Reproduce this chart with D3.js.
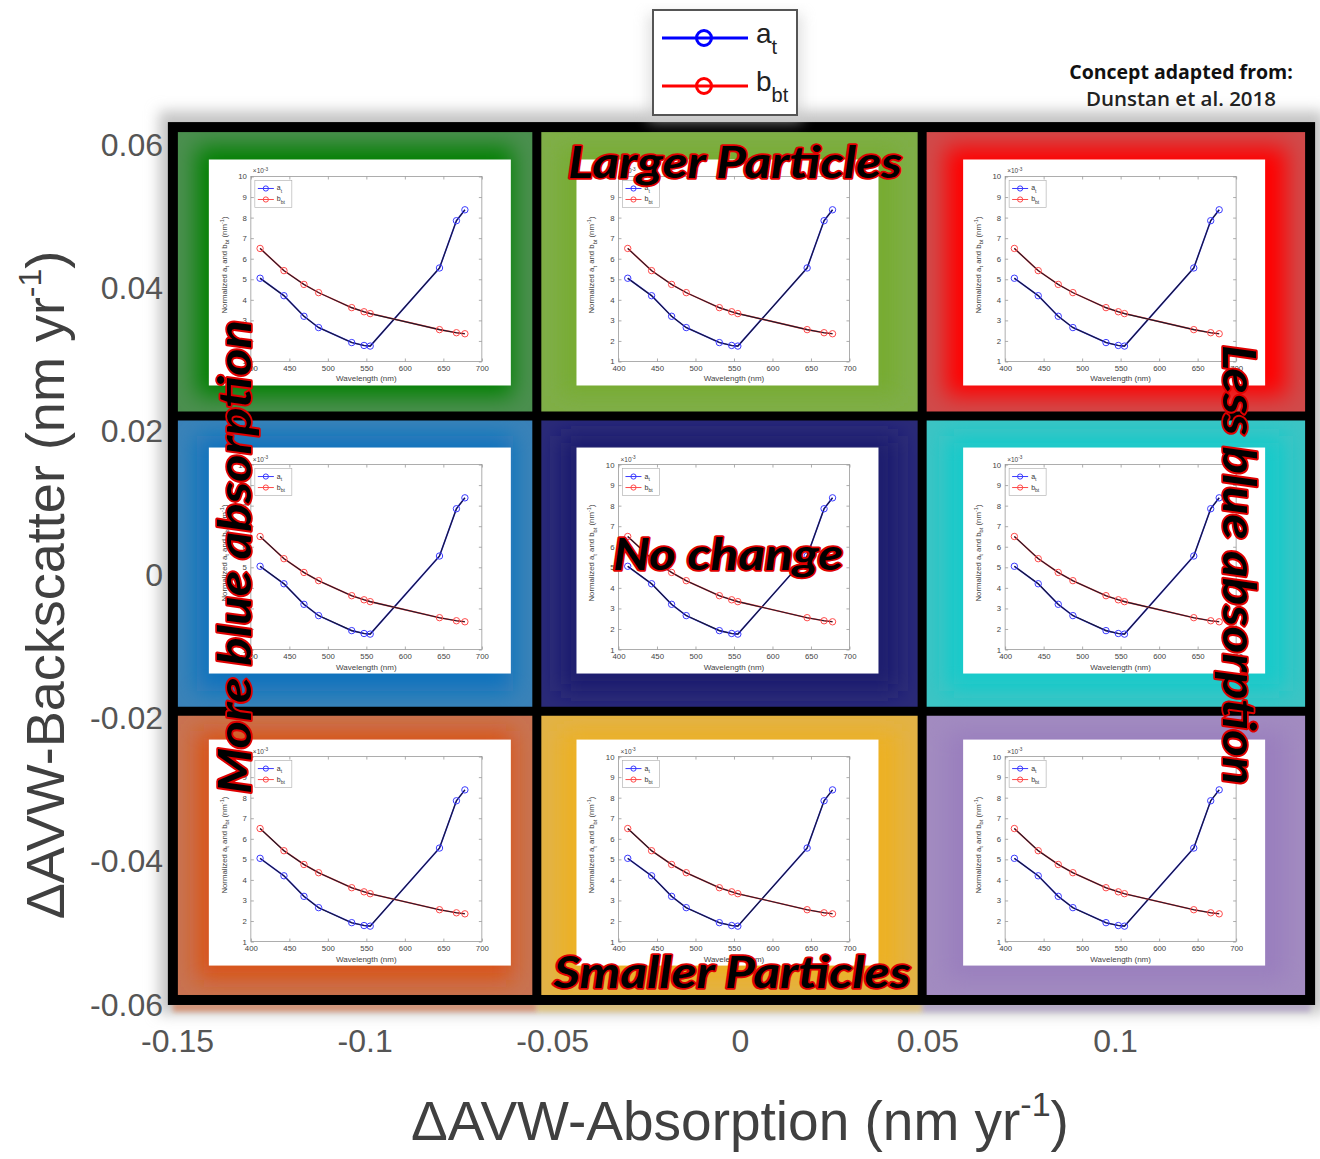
<!DOCTYPE html>
<html><head><meta charset="utf-8">
<script src="https://cdn.jsdelivr.net/npm/d3@7"></script>
<style>body{margin:0;background:#fff}svg{display:block}</style>
</head><body><svg id="c" width="1320" height="1159"></svg>
<script>
// ---- data ----
const wavelengths = [412, 443, 469, 488, 531, 547, 555, 645, 667, 678];
const aT  = [5.05, 4.2, 3.2, 2.65, 1.92, 1.78, 1.75, 5.55, 7.85, 8.38];
const bBT = [6.5, 5.42, 4.75, 4.35, 3.62, 3.42, 3.33, 2.55, 2.4, 2.35];
const insetXTicks = [400, 450, 500, 550, 600, 650, 700];
const insetYTicks = [1, 2, 3, 4, 5, 6, 7, 8, 9, 10];
const xTicks = [-0.15, -0.1, -0.05, 0, 0.05, 0.1];
const yTicks = [0.06, 0.04, 0.02, 0, -0.02, -0.04, -0.06];
const colEdges = [-0.1511, -0.0541, 0.0486, 0.152];
const rowEdges = [0.0625, 0.0222, -0.019, -0.0593];
const cellColors = [
  ["#008000", "#77ac30", "#ff0000"],
  ["#0a72bd", "#1c1c6e", "#12caca"],
  ["#d95319", "#edb120", "#9a7fbe"]
];
const edgeColors = [
  ["#4b8f4f", "#7fae48", "#d04a4a"],
  ["#3a82b8", "#2a2a78", "#3cc4c4"],
  ["#c87352", "#e2b246", "#a28bc0"]
];
const quadLabels = ["Larger Particles", "No change", "Smaller Particles", "More blue absorption", "Less blue absorption"];

// ---- setup ----
const svg = d3.select("#c");
const defs = svg.append("defs");
defs.append("filter").attr("id", "blur").attr("x", "-20%").attr("y", "-20%").attr("width", "140%").attr("height", "140%")
  .append("feGaussianBlur").attr("stdDeviation", 11);
defs.append("filter").attr("id", "shadow").attr("x", "-10%").attr("y", "-10%").attr("width", "120%").attr("height", "120%")
  .append("feGaussianBlur").attr("stdDeviation", 7);
defs.append("filter").attr("id", "soft").attr("x", "-10%").attr("y", "-50%").attr("width", "120%").attr("height", "200%")
  .append("feGaussianBlur").attr("stdDeviation", 2.5);

const x = d3.scaleLinear().domain([-0.15, 0.1]).range([177, 1115]);
const y = d3.scaleLinear().domain([0.06, -0.06]).range([145, 1005]);

// halo/shadow behind the grid
svg.append("rect")
  .attr("x", x(colEdges[0]) - 14).attr("y", y(rowEdges[0]) - 16)
  .attr("width", x(colEdges[3]) - x(colEdges[0]) + 28)
  .attr("height", y(rowEdges[3]) - y(rowEdges[0]) + 30)
  .attr("fill", "#c4c4c4").attr("filter", "url(#shadow)");

// colored fringes below the frame (remnant scatter)
[0, 1, 2].forEach(c => {
  svg.append("rect")
    .attr("x", x(colEdges[c])).attr("y", y(rowEdges[3]) + 2)
    .attr("width", x(colEdges[c + 1]) - x(colEdges[c])).attr("height", 10)
    .attr("fill", cellColors[2][c]).attr("opacity", 0.45).attr("filter", "url(#soft)");
});

// ---- axes ----
const fmt = d => String(d);
const gx = svg.append("g").attr("transform", `translate(0,${y(-0.06)})`)
  .call(d3.axisBottom(x).tickValues(xTicks).tickSize(0).tickPadding(24).tickFormat(fmt));
gx.select(".domain").remove();
gx.selectAll("text").attr("font-family", "Liberation Sans, Arial, sans-serif").attr("font-size", 32).attr("fill", "#555");

const gy = svg.append("g").attr("transform", `translate(166,0)`)
  .call(d3.axisLeft(y).tickValues(yTicks).tickSize(0).tickPadding(3).tickFormat(fmt));
gy.select(".domain").remove();
gy.selectAll("text").attr("font-family", "Liberation Sans, Arial, sans-serif").attr("font-size", 32).attr("fill", "#555");

// axis titles
const xt = svg.append("text").attr("x", 740).attr("y", 1140).attr("text-anchor", "middle")
  .attr("font-family", "Liberation Sans, Arial, sans-serif").attr("font-size", 55).attr("fill", "#404040");
xt.append("tspan").text("\u0394AVW-Absorption (nm yr");
xt.append("tspan").attr("font-size", 34).attr("dy", -24).text("-1");
xt.append("tspan").attr("dy", 24).text(")");

const yt = svg.append("text").attr("transform", "translate(64,585) rotate(-90)").attr("text-anchor", "middle")
  .attr("font-family", "Liberation Sans, Arial, sans-serif").attr("font-size", 54).attr("fill", "#404040");
yt.append("tspan").text("\u0394AVW-Backscatter (nm yr");
yt.append("tspan").attr("font-size", 32).attr("dy", -23).text("-1");
yt.append("tspan").attr("dy", 23).text(")");

// ---- cells ----
const W = 302, H = 226;
function subText(sel, parts, baseSize) {
  parts.forEach(p => {
    const t = sel.append("tspan").text(p.t);
    if (p.sub) { t.attr("font-size", baseSize * 0.72).attr("dy", baseSize * 0.3); }
    else if (p.sup) { t.attr("font-size", baseSize * 0.72).attr("dy", -baseSize * 0.4); }
    if (p.back) t.attr("dy", p.back);
  });
}

function drawInset(g, wx, wy) {
  g.append("rect").attr("x", wx).attr("y", wy).attr("width", W).attr("height", H).attr("fill", "#fff");
  const L = wx + 42, R = wx + W - 29, T = wy + 17, B = wy + H - 24;
  const ix = d3.scaleLinear().domain([400, 700]).range([L, R]);
  const iy = d3.scaleLinear().domain([1, 10]).range([B, T]);
  const font = "Liberation Sans, Arial, sans-serif";
  const ax = g.append("g").attr("transform", `translate(0,${B})`)
    .call(d3.axisBottom(ix).tickValues(insetXTicks).tickSize(-3).tickPadding(4));
  const axt = g.append("g").attr("transform", `translate(0,${T})`)
    .call(d3.axisTop(ix).tickValues(insetXTicks).tickSize(-3).tickFormat(""));
  const ay = g.append("g").attr("transform", `translate(${L},0)`)
    .call(d3.axisLeft(iy).tickValues(insetYTicks).tickSize(-3).tickPadding(4));
  const ayr = g.append("g").attr("transform", `translate(${R},0)`)
    .call(d3.axisRight(iy).tickValues(insetYTicks).tickSize(-3).tickFormat(""));
  [ax, axt, ay, ayr].forEach(a => {
    a.select(".domain").remove();
    a.selectAll("line").attr("stroke", "#777").attr("stroke-width", 0.6);
    a.selectAll("text").attr("font-family", font).attr("font-size", 7.8).attr("fill", "#444");
  });
  g.append("rect").attr("x", L).attr("y", T).attr("width", R - L).attr("height", B - T)
    .attr("fill", "none").attr("stroke", "#999").attr("stroke-width", 0.8);
  const xe = g.append("text").attr("x", L + 2).attr("y", T - 3).attr("font-family", font).attr("font-size", 6.5).attr("fill", "#444");
  subText(xe, [{t: "\u00d710"}, {t: "-3", sup: true}], 6.5);
  // labels
  g.append("text").attr("x", (L + R) / 2).attr("y", B + 20).attr("text-anchor", "middle")
    .attr("font-family", font).attr("font-size", 8).attr("fill", "#444").text("Wavelength (nm)");
  const yl = g.append("text").attr("transform", `translate(${wx + 18},${(T + B) / 2 - 4}) rotate(-90)`).attr("text-anchor", "middle")
    .attr("font-family", font).attr("font-size", 7.8).attr("fill", "#444");
  subText(yl, [{t: "Normalized a"}, {t: "t", sub: true}, {t: " and b", back: -7.8 * 0.3}, {t: "bt", sub: true},
               {t: " (nm", back: -7.8 * 0.3}, {t: "-1", sup: true}, {t: ")", back: 7.8 * 0.4}], 7.8);
  // series
  const line = d3.line().x((d, i) => ix(wavelengths[i])).y(d => iy(d));
  [[aT, "#3a3aff"], [bBT, "#ff4a4a"]].forEach(([vals, col]) => {
    g.append("path").attr("d", line(vals)).attr("fill", "none").attr("stroke", col).attr("stroke-width", 1.6);
    g.append("path").attr("d", line(vals)).attr("fill", "none").attr("stroke", "#1a1a2a").attr("stroke-width", 1.1);
    g.selectAll(null).data(vals).enter().append("circle")
      .attr("cx", (d, i) => ix(wavelengths[i])).attr("cy", d => iy(d)).attr("r", 3.2)
      .attr("fill", "none").attr("stroke", col).attr("stroke-width", 1);
  });
  // legend
  const lg = g.append("g").attr("transform", `translate(${L + 4},${T + 4})`);
  lg.append("rect").attr("width", 37).attr("height", 27).attr("fill", "#fff").attr("stroke", "#aaa").attr("stroke-width", 0.6);
  [["a", "t", "#3a3aff", 8], ["b", "bt", "#ff4a4a", 19]].forEach(([m, s, col, yy]) => {
    lg.append("line").attr("x1", 3).attr("x2", 19).attr("y1", yy).attr("y2", yy).attr("stroke", col).attr("stroke-width", 1);
    lg.append("circle").attr("cx", 11).attr("cy", yy).attr("r", 2.6).attr("fill", "none").attr("stroke", col).attr("stroke-width", 1);
    const tt = lg.append("text").attr("x", 22).attr("y", yy + 2).attr("font-family", font).attr("font-size", 7).attr("fill", "#333");
    subText(tt, [{t: m}, {t: s, sub: true}], 7);
  });
}

cellColors.forEach((row, r) => row.forEach((col, c) => {
  const x0 = x(colEdges[c]), x1 = x(colEdges[c + 1]);
  const y0 = y(rowEdges[r]), y1 = y(rowEdges[r + 1]);
  const id = `clip${r}${c}`;
  defs.append("clipPath").attr("id", id).append("rect").attr("x", x0).attr("y", y0).attr("width", x1 - x0).attr("height", y1 - y0);
  const g = svg.append("g");
  const gc = g.append("g").attr("clip-path", `url(#${id})`);
  gc.append("rect").attr("x", x0).attr("y", y0).attr("width", x1 - x0).attr("height", y1 - y0).attr("fill", edgeColors[r][c]);
  gc.append("rect").attr("x", x0 + 24).attr("y", y0 + 20).attr("width", x1 - x0 - 48).attr("height", y1 - y0 - 40)
    .attr("fill", col).attr("filter", "url(#blur)");
  const wx = (x0 + x1) / 2 - W / 2 + (c === 0 ? 5 : -2);
  const wy = (y0 + y1) / 2 - H / 2 + (r === 0 ? 1 : -3);
  drawInset(g, wx, wy);
}));

// ---- frame ----
const frame = svg.append("g").attr("stroke", "#000").attr("fill", "none");
frame.append("rect").attr("x", x(colEdges[0])).attr("y", y(rowEdges[0]))
  .attr("width", x(colEdges[3]) - x(colEdges[0])).attr("height", y(rowEdges[3]) - y(rowEdges[0]))
  .attr("stroke-width", 10);
[1, 2].forEach(c => frame.append("line").attr("x1", x(colEdges[c])).attr("x2", x(colEdges[c]))
  .attr("y1", y(rowEdges[0])).attr("y2", y(rowEdges[3])).attr("stroke-width", 9));
[1, 2].forEach(r => frame.append("line").attr("y1", y(rowEdges[r])).attr("y2", y(rowEdges[r]))
  .attr("x1", x(colEdges[0])).attr("x2", x(colEdges[3])).attr("stroke-width", 9));

// ---- big labels ----
function bigLabel(txt, tr, len, size) {
  svg.append("text").attr("transform", tr).attr("text-anchor", "middle")
    .attr("font-family", "Lato, 'Open Sans', sans-serif").attr("font-weight", 700).attr("font-style", "italic")
    .attr("font-size", size).attr("fill", "#000").attr("stroke", "#e00000").attr("stroke-width", 3.5)
    .attr("stroke-linejoin", "round").attr("paint-order", "stroke")
    .attr("textLength", len).attr("lengthAdjust", "spacingAndGlyphs").text(txt);
}
bigLabel(quadLabels[0], "translate(735,178)", 334, 43);
bigLabel(quadLabels[1], "translate(728,570)", 230, 44);
bigLabel(quadLabels[2], "translate(732,988)", 357, 43);
bigLabel(quadLabels[3], "translate(251,557) rotate(-90)", 474, 45);
bigLabel(quadLabels[4], "translate(1223,565) rotate(90)", 440, 45);

// ---- top legend ----
const lgd = svg.append("g");
lgd.append("rect").attr("x", 648).attr("y", 14).attr("width", 154).attr("height", 108).attr("fill", "#ccc").attr("filter", "url(#shadow)").attr("opacity", 0.6);
lgd.append("rect").attr("x", 653).attr("y", 10).attr("width", 144).attr("height", 105)
  .attr("fill", "#fff").attr("stroke", "#555").attr("stroke-width", 2);
[["a", "t", "#0000ff", 38], ["b", "bt", "#ff0000", 86]].forEach(([m, s, col, yy]) => {
  lgd.append("line").attr("x1", 662).attr("x2", 748).attr("y1", yy).attr("y2", yy).attr("stroke", col).attr("stroke-width", 3);
  lgd.append("circle").attr("cx", 704).attr("cy", yy).attr("r", 7.5).attr("fill", "none").attr("stroke", col).attr("stroke-width", 3);
  const tt = lgd.append("text").attr("x", 756).attr("y", yy + 5).attr("font-family", "Liberation Sans, Arial, sans-serif")
    .attr("font-size", 28).attr("fill", "#222");
  tt.append("tspan").text(m);
  tt.append("tspan").attr("font-size", 20).attr("dy", 11).text(s);
});

// ---- attribution ----
svg.append("text").attr("x", 1181).attr("y", 79).attr("text-anchor", "middle")
  .attr("font-family", "'Open Sans', sans-serif").attr("font-weight", 700).attr("font-size", 19.5).attr("fill", "#111")
  .text("Concept adapted from:");
svg.append("text").attr("x", 1181).attr("y", 106).attr("text-anchor", "middle")
  .attr("font-family", "'Open Sans', sans-serif").attr("font-weight", 600).attr("font-size", 20.5).attr("fill", "#222")
  .text("Dunstan et al. 2018");
</script></body></html>
